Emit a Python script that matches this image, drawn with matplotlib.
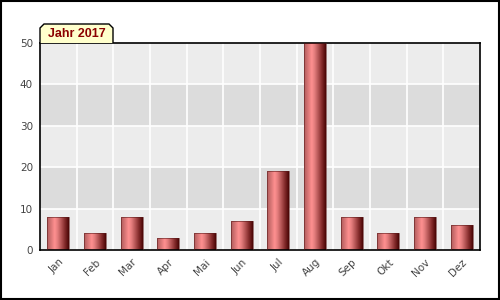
import numpy as np
import matplotlib
matplotlib.use("Agg")
import matplotlib.pyplot as plt
from matplotlib.colors import LinearSegmentedColormap
from matplotlib.patches import Rectangle, Polygon

months = ["Jan", "Feb", "Mar", "Apr", "Mai", "Jun", "Jul", "Aug", "Sep", "Okt", "Nov", "Dez"]
values = [8, 4, 8, 3, 4, 7, 19, 50, 8, 4, 8, 6]
yticks = [0, 10, 20, 30, 40, 50]
title = "Jahr 2017"

fig = plt.figure(figsize=(5, 3), dpi=100)
fig.patch.set_facecolor("white")
fig.add_artist(Rectangle((0.002, 0.003), 0.996, 0.994, transform=fig.transFigure,
                         fill=False, edgecolor="black", linewidth=1.5))

ax = fig.add_axes([0.08, 1 - 250 / 300, 0.88, 207 / 300])
n = len(months)
ax.set_xlim(-0.5, n - 0.5)
ax.set_ylim(0, 50)

# bands
for i in range(5):
    col = "#ececec" if i % 2 == 0 else "#dcdcdc"
    ax.axhspan(i * 10, (i + 1) * 10, color=col, zorder=0, lw=0)
for y in yticks[1:-1]:
    ax.axhline(y, color="white", lw=1.2, zorder=1)
for k in range(n - 1):
    ax.axvline(k + 0.5, color="white", lw=1.2, zorder=1)

cmap = LinearSegmentedColormap.from_list("bar", [
    (0.0, "#b05c5c"), (0.35, "#ff9090"), (0.5, "#e07a7a"),
    (0.8, "#8a3030"), (1.0, "#4a0505")])
grad = np.linspace(0, 1, 64).reshape(1, -1)
w = 0.6
for i, v in enumerate(values):
    x0, x1 = i - w / 2, i + w / 2
    im = ax.imshow(grad, cmap=cmap, extent=[x0, x1, 0, v], aspect="auto",
                   zorder=2, interpolation="bilinear")
    r = Rectangle((x0, 0), w, v, fill=False, edgecolor="#5a1a1a", lw=0.4, zorder=3)
    ax.add_patch(r)
    im.set_clip_path(r)
ax.set_xlim(-0.5, n - 0.5)
ax.set_ylim(0, 50)

ax.set_xticks(range(n))
ax.set_xticklabels(months, rotation=45, ha="right", rotation_mode="anchor",
                   fontsize=7.5, color="#444444")
ax.set_yticks(yticks)
ax.set_yticklabels([str(t) for t in yticks], fontsize=7.5, color="#444444")
ax.tick_params(axis="both", length=0, pad=5)
for s in ax.spines.values():
    s.set_linewidth(1.2)
    s.set_color("black")

# title tab
X = lambda px: px / 500
Y = lambda py: 1 - py / 300
pts = [(X(40), Y(43)), (X(40), Y(28)), (X(44), Y(24)), (X(109), Y(24)),
       (X(113), Y(28)), (X(113), Y(43))]
fig.add_artist(Polygon(pts, closed=False, transform=fig.transFigure,
                       facecolor="#ffffcc", edgecolor="black", lw=1, zorder=5))
fig.text(X(76.5), Y(34), title, ha="center", va="center", fontsize=9,
         fontweight="bold", color="#8b0000", family=["Liberation Sans", "DejaVu Sans"],
         zorder=6)

fig.savefig("out.png", dpi=100)
